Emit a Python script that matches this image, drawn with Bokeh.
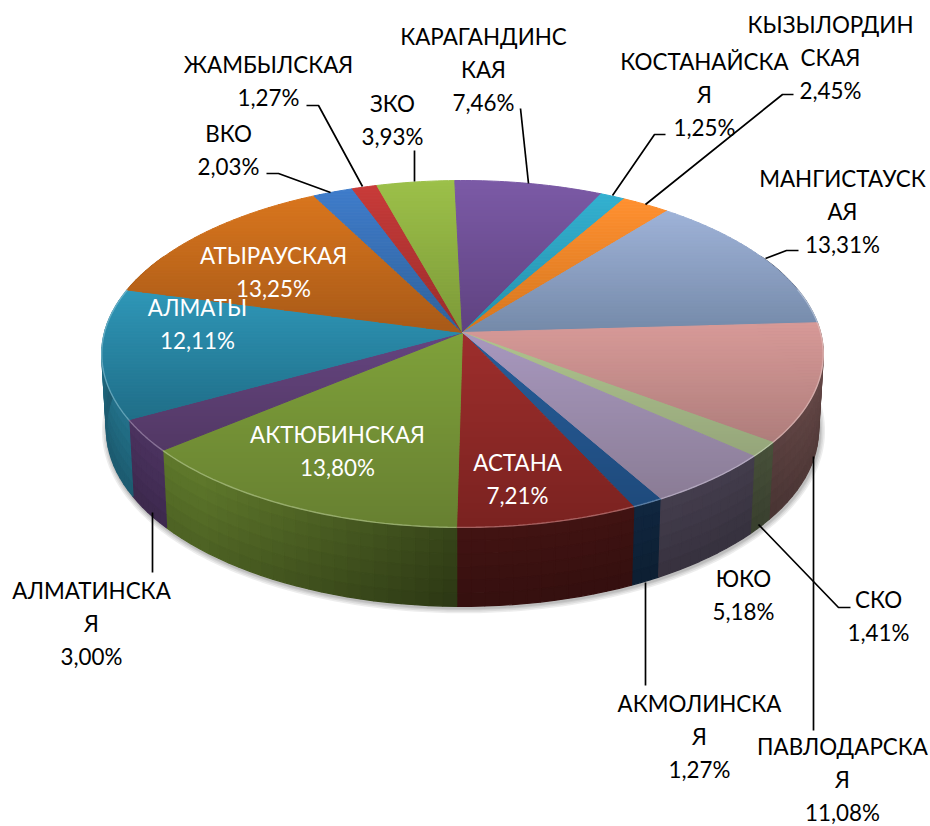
import numpy as np
from bokeh.plotting import figure
from bokeh.models import Range1d
from bokeh.core.properties import value
from bokeh.embed import file_html
from bokeh.resources import INLINE

# ---- data, clockwise from the first slice
regions = ["АКМОЛИНСКАЯ", "АСТАНА", "АКТЮБИНСКАЯ", "АЛМАТИНСКАЯ", "АЛМАТЫ", "АТЫРАУСКАЯ", "ВКО", "ЖАМБЫЛСКАЯ",
           "ЗКО", "КАРАГАНДИНСКАЯ", "КОСТАНАЙСКАЯ", "КЫЗЫЛОРДИНСКАЯ", "МАНГИСТАУСКАЯ", "ПАВЛОДАРСКАЯ", "СКО", "ЮКО"]
shares = [1.27, 7.21, 13.80, 3.00, 12.11, 13.25, 2.03, 1.27, 3.93, 7.46, 1.25, 2.45, 13.31, 11.08, 1.41, 5.18]
first_slice_angle = 150.3

# ---- style
top_light = ["#285E9A", "#9E2E2C", "#7FA13A", "#654480", "#2F97B8", "#D9761E", "#3F7CCB", "#C83C3A",
             "#9CC04A", "#7B5AA6", "#33B0D0", "#FF9030", "#9FB2D8", "#D89A98", "#AFC48E", "#A898BF"]
top_dark = ["#1E4A7C", "#7A2220", "#678031", "#523864", "#206E88", "#A85A18", "#2F6199", "#9A2D2C",
            "#7D9A38", "#5F4280", "#2690AA", "#D4761E", "#758AA9", "#AE7D7B", "#95A57A", "#8A7C95"]
label_lines = [["АКМОЛИНСКА", "Я"], ["АСТАНА"], ["АКТЮБИНСКАЯ"], ["АЛМАТИНСКА", "Я"], ["АЛМАТЫ"], ["АТЫРАУСКАЯ"],
               ["ВКО"], ["ЖАМБЫЛСКАЯ"], ["ЗКО"], ["КАРАГАНДИНС", "КАЯ"], ["КОСТАНАЙСКА", "Я"], ["КЫЗЫЛОРДИН", "СКАЯ"],
               ["МАНГИСТАУСК", "АЯ"], ["ПАВЛОДАРСКА", "Я"], ["СКО"], ["ЮКО"]]
label_x = [699, 517, 337, 91, 197, 273, 228, 268, 392, 483, 704, 830, 842, 842, 878, 743]
label_y = [703, 462, 434, 590, 307, 255, 133, 64, 103, 36, 61, 24, 178, 746, 599, 578]
label_color = ["black", "white", "white", "black", "white", "white"] + ["black"] * 10
line_step = 33
leaders = [[(266, 173), (278, 173), (330, 192)], [(306, 105), (318, 105), (362, 186)], [(414, 150), (414, 181)],
           [(520, 108), (528, 183)], [(665, 134), (654, 134), (612, 195)], [(793, 94), (782, 94), (645, 204)],
           [(798, 250), (786, 250), (765, 258)], [(152, 512), (152, 572)], [(645, 582), (645, 685)],
           [(813, 456), (813, 730)], [(758, 524), (838, 607), (850, 607)]]

# ---- projection of the disc
CX, CY = 462.0, 332.0
A, B, K = 358.0, 170.8, 0.1237


def top_pt(deg):
    t = np.radians(deg)
    d = 1 + K * np.cos(t)
    return CX + A * np.sin(t) / d, CY - B * np.cos(t) / d


def bottom_pt(deg):
    t = np.radians(deg)
    d = 1 + K * np.cos(t)
    return CX + 0.987 * A * np.sin(t) / d, CY + 75 - 1.02 * B * np.cos(t) / d


def rgb(h):
    return np.array([int(h[i:i + 2], 16) for i in (1, 3, 5)], float)


def hexc(c):
    c = np.clip(np.round(c), 0, 255).astype(int)
    return "#%02x%02x%02x" % tuple(c)


def clip(poly, y0, y1):
    def half(pts, keep, cut):
        out = []
        for i in range(len(pts)):
            a, b = pts[i], pts[(i + 1) % len(pts)]
            ka, kb = keep(a), keep(b)
            if ka:
                out.append(a)
            if ka != kb:
                s = (cut - a[1]) / (b[1] - a[1])
                out.append((a[0] + s * (b[0] - a[0]), cut))
        return out
    p = half(poly, lambda q: q[1] >= y0, y0)
    return half(p, lambda q: q[1] <= y1, y1) if p else p


edges = np.cumsum([0.0] + [s / sum(shares) * 360 for s in shares]) + first_slice_angle

p = figure(width=930, height=826, x_range=Range1d(0, 930), y_range=Range1d(826, 0),
           toolbar_location=None, output_backend="svg", min_border=0, outline_line_color=None)
p.axis.visible = False
p.grid.visible = False

# soft shadow under the disc
sh = np.linspace(62, 298, 160)
sx, sy = bottom_pt(sh)
for w in (11, 8, 5, 3):
    p.line(sx + 1, sy + 1.5, line_color="#000000", line_alpha=0.07, line_width=w)

# side wall
xs, ys, cs = [], [], []
ROWS = 6
for i in range(len(shares)):
    a0, a1 = edges[i], edges[i + 1]
    a0m, a1m = a0 % 360, a0 % 360 + (a1 - a0)
    a0m, a1m = max(a0m, 62), min(a1m, 298)
    if a1m <= a0m:
        continue
    n = int(np.ceil((a1m - a0m) / 2)) + 1
    th = np.linspace(a0m, a1m, n)
    base = rgb(top_light[i])
    for j in range(n - 1):
        tx0, ty0 = top_pt(th[j]); tx1, ty1 = top_pt(th[j + 1])
        bx0, by0 = bottom_pt(th[j]); bx1, by1 = bottom_pt(th[j + 1])
        mid = (tx0 + tx1) / 2
        f = np.interp(mid, [200, 460, 760, 820], [0.75, 0.42, 0.40, 0.47])
        for r in range(ROWS):
            u0, u1 = r / ROWS, (r + 1) / ROWS
            xs.append([tx0 + u0 * (bx0 - tx0), tx1 + u0 * (bx1 - tx1), tx1 + u1 * (bx1 - tx1), tx0 + u1 * (bx0 - tx0)])
            ys.append([ty0 + u0 * (by0 - ty0), ty1 + u0 * (by1 - ty1), ty1 + u1 * (by1 - ty1), ty0 + u1 * (by0 - ty0)])
            cs.append(hexc(base * f * (1 - 0.2 * (u0 + u1) / 2)))
p.patches(xs, ys, fill_color=cs, line_color=cs, line_width=1.3)

# top surface, each slice shaded from its upper to its lower edge
xs, ys, cs = [], [], []
for i in range(len(shares)):
    th = np.arange(edges[i], edges[i + 1], 1.0).tolist() + [edges[i + 1]]
    ax, ay = top_pt(np.array(th))
    poly = [(CX, CY)] + list(zip(ax.tolist(), ay.tolist()))
    ymin, ymax = min(q[1] for q in poly), max(q[1] for q in poly)
    c0, c1 = rgb(top_light[i]), rgb(top_dark[i])
    y = ymin
    while y < ymax:
        part = clip(poly, y, min(y + 3, ymax))
        if len(part) >= 3:
            xs.append([q[0] for q in part])
            ys.append([q[1] for q in part])
            cs.append(hexc(c0 + (c1 - c0) * (y + 1.5 - ymin) / (ymax - ymin)))
        y += 3
p.patches(xs, ys, fill_color=cs, line_color=cs, line_width=1.0)

# light rim along the front edge
for i in range(len(shares)):
    a0m, a1m = edges[i] % 360, edges[i] % 360 + (edges[i + 1] - edges[i])
    a0m, a1m = max(a0m, 75), min(a1m, 285)
    if a1m > a0m:
        rx, ry = top_pt(np.linspace(a0m, a1m, 40))
        p.line(rx, ry, line_color=hexc(rgb(top_light[i]) * 0.5 + 127), line_alpha=0.55, line_width=1.4)

# leader lines
p.multi_line([[q[0] for q in l] for l in leaders], [[q[1] for q in l] for l in leaders],
             line_color="black", line_width=1.7)

# labels
tx, ty, tt, tc = [], [], [], []
for i in range(len(shares)):
    lines = label_lines[i] + [f"{shares[i]:.2f}%".replace(".", ",")]
    for k, s in enumerate(lines):
        tx.append(label_x[i]); ty.append(label_y[i] + k * line_step); tt.append(s); tc.append(label_color[i])
p.text(tx, ty, text=tt, text_color=tc, text_font=value("Lato"), text_font_size="22.4px",
       text_align="center", text_baseline="middle")

open("out.html", "w").write(file_html(p, INLINE))
